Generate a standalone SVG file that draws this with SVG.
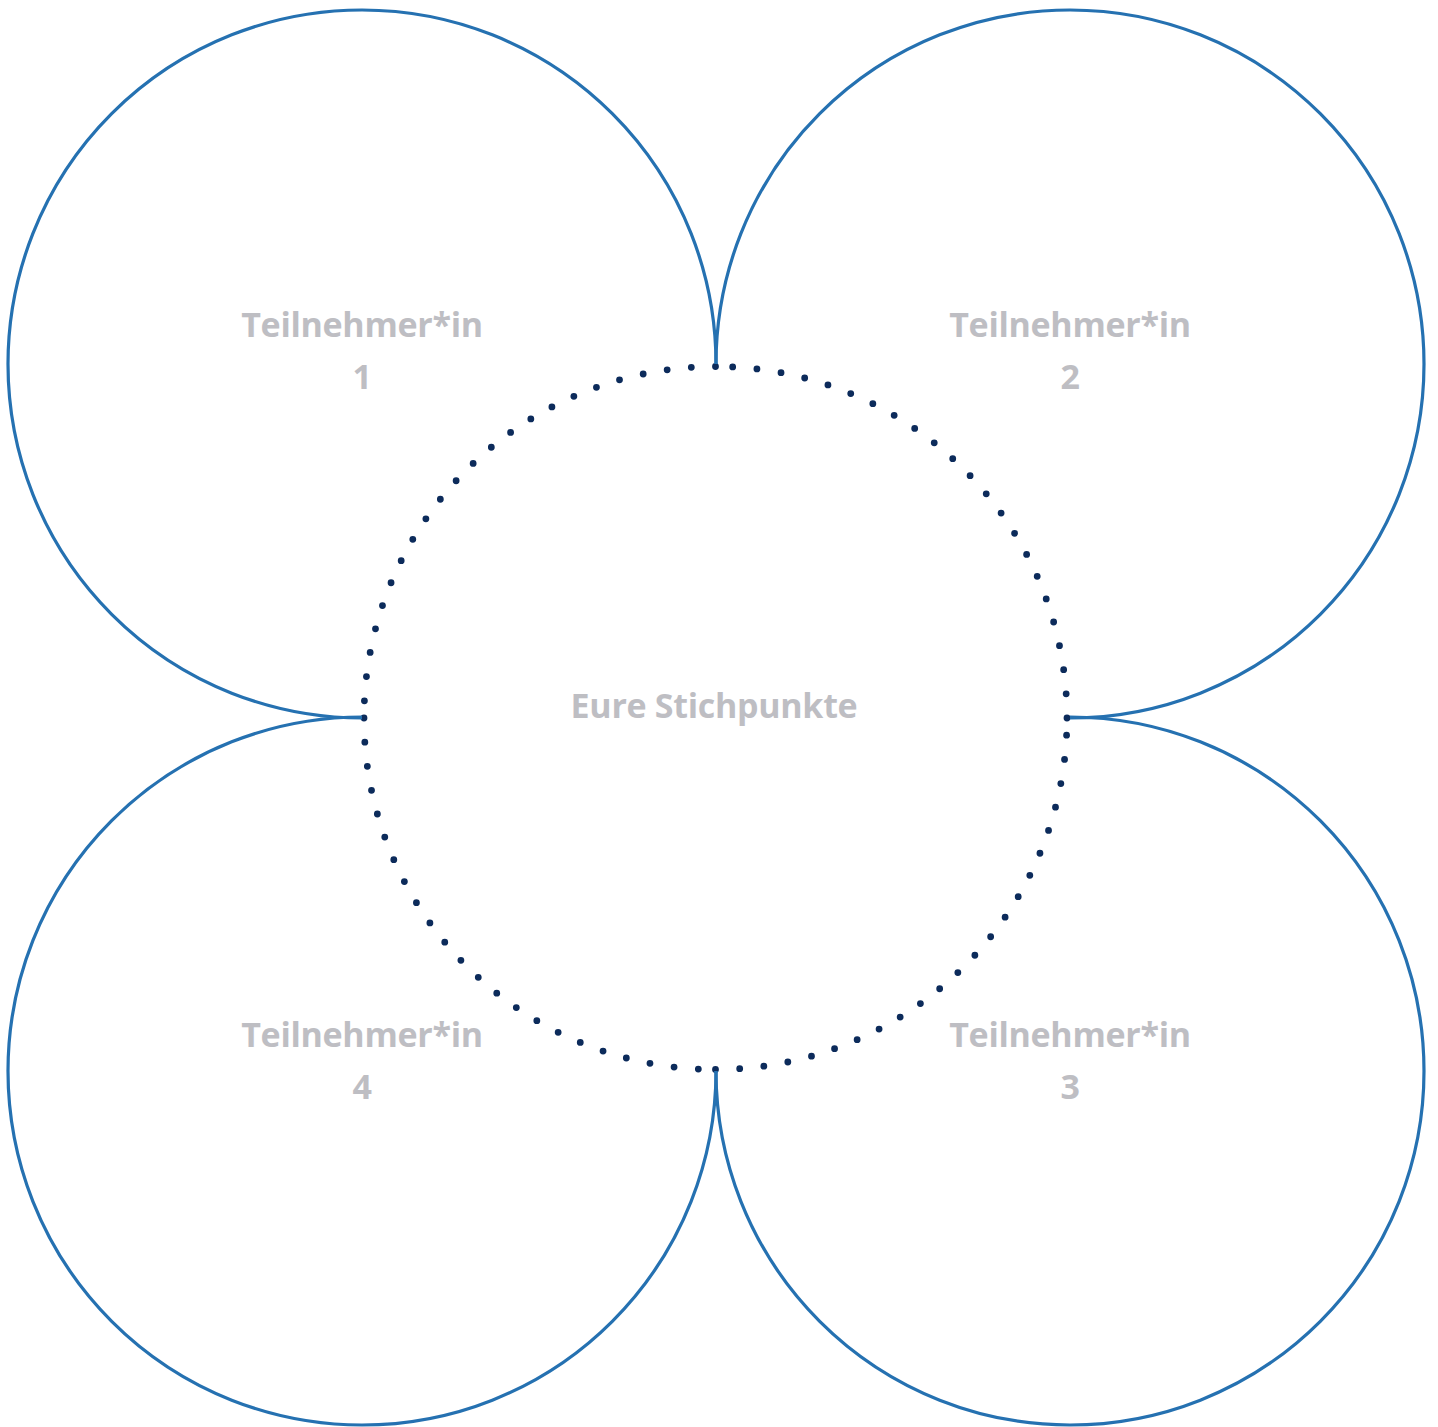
<svg xmlns="http://www.w3.org/2000/svg" width="1438" height="1427" viewBox="0 0 1438 1427">
<style>
.petal{fill:none;stroke:#2571b1;stroke-width:3.2}
.dots{fill:none;stroke:#0c2b5b;stroke-width:6.8;stroke-linecap:round;stroke-dasharray:0 24.3}
.lbl{font-family:"Open Sans","DejaVu Sans",sans-serif;font-weight:bold;font-size:34px;letter-spacing:-0.3px;fill:#bebec3;text-anchor:middle}
</style>
<rect width="1438" height="1427" fill="#ffffff"/>
<g id="connectors">
<path class="dots" d="M1067 718 A351.5 351.5 0 0 0 715.5 366.5"/>
<path class="dots" d="M715.5 366.5 A351.5 351.5 0 0 0 364 718"/>
<path class="dots" d="M364 718 A351.5 351.5 0 0 0 715.5 1069.5"/>
<path class="dots" d="M715.5 1069.5 A351.5 351.5 0 0 0 1067 718"/>
</g>
<g id="p1">
<path class="petal" d="M716 364 A354 354 0 1 0 362 718"/>
<text class="lbl" x="362" y="337">Teilnehmer*in</text>
<text class="lbl" x="362" y="389">1</text>
</g>
<g id="p2">
<path class="petal" d="M1070 718 A354 354 0 1 0 716 364"/>
<text class="lbl" x="1070" y="337">Teilnehmer*in</text>
<text class="lbl" x="1070" y="389">2</text>
</g>
<g id="p3">
<path class="petal" d="M716 1071 A354 354 0 1 0 1070 717"/>
<text class="lbl" x="1070" y="1047">Teilnehmer*in</text>
<text class="lbl" x="1070" y="1099">3</text>
</g>
<g id="p4">
<path class="petal" d="M362 717 A354 354 0 1 0 716 1071"/>
<text class="lbl" x="362" y="1047">Teilnehmer*in</text>
<text class="lbl" x="362" y="1099">4</text>
</g>
<g id="center">
<text class="lbl" x="714" y="718">Eure Stichpunkte</text>
</g>
</svg>
